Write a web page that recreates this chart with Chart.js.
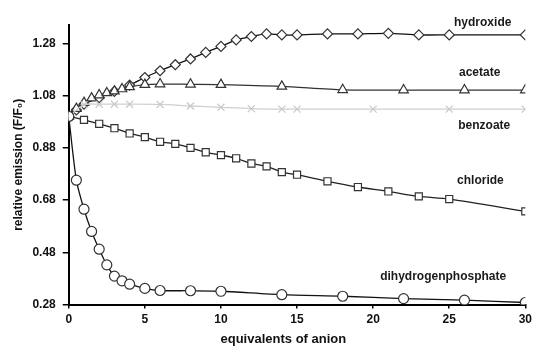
<!DOCTYPE html>
<html>
<head>
<meta charset="utf-8">
<script src="https://cdn.jsdelivr.net/npm/chart.js@4"></script>
<style>
  html, body { margin: 0; padding: 0; background: #fff; }
  #wrap { width: 536px; height: 348px; }
</style>
</head>
<body>
<div id="wrap"><canvas id="grafico"></canvas></div>
<script>
// ************************* DATOS *************************
const hydroxideX = [0, 0.5, 1, 2, 3, 4, 5, 6, 7, 8, 9, 10, 11, 12, 13, 14, 15, 17, 19, 21, 23, 25, 30];
const hydroxideY = [1.0, 1.025, 1.047, 1.072, 1.096, 1.12, 1.149, 1.175, 1.198, 1.22, 1.245, 1.268, 1.293, 1.306, 1.316, 1.312, 1.312, 1.316, 1.316, 1.318, 1.312, 1.312, 1.312];

const acetateX = [0, 0.5, 1, 1.5, 2, 2.5, 3, 3.5, 4, 5, 6, 8, 10, 14, 18, 22, 26, 30];
const acetateY = [1.0, 1.03, 1.053, 1.07, 1.082, 1.09, 1.097, 1.105, 1.113, 1.122, 1.124, 1.123, 1.122, 1.115, 1.102, 1.101, 1.101, 1.101];

const benzoateX = [0, 1, 2, 3, 4, 6, 8, 10, 12, 14, 15, 20, 25, 30];
const benzoateY = [1.0, 1.045, 1.047, 1.047, 1.047, 1.046, 1.04, 1.035, 1.03, 1.028, 1.028, 1.028, 1.028, 1.028];

const chlorideX = [0, 1, 2, 3, 4, 5, 6, 7, 8, 9, 10, 11, 12, 13, 14, 15, 17, 19, 21, 23, 25, 30];
const chlorideY = [1.0, 0.987, 0.972, 0.955, 0.935, 0.921, 0.903, 0.895, 0.88, 0.863, 0.852, 0.84, 0.82, 0.809, 0.787, 0.777, 0.752, 0.73, 0.713, 0.694, 0.684, 0.637];

const phosphateX = [0, 0.5, 1, 1.5, 2, 2.5, 3, 3.5, 4, 5, 6, 8, 10, 14, 18, 22, 26, 30];
const phosphateY = [1.0, 0.756, 0.645, 0.56, 0.492, 0.432, 0.389, 0.371, 0.358, 0.342, 0.334, 0.333, 0.331, 0.318, 0.312, 0.303, 0.297, 0.288];

const yTicks = [0.28, 0.48, 0.68, 0.88, 1.08, 1.28];
const xTicks = [0, 5, 10, 15, 20, 25, 30];

const seriesNames = ["hydroxide", "acetate", "benzoate", "chloride", "dihydrogenphosphate"];

// posición de las etiquetas (coordenadas de datos)
const etiquetas = [
  { texto: "hydroxide", x: 27.2, y: 1.36 },
  { texto: "acetate", x: 27.0, y: 1.168 },
  { texto: "benzoate", x: 27.3, y: 0.963 },
  { texto: "chloride", x: 27.05, y: 0.755 },
  { texto: "dihydrogenphosphate", x: 24.6, y: 0.385 }
];

/**
 * Une los arrays x/y en puntos para Chart.js
 */
function puntos(xs, ys) {
  return xs.map(function (x, i) {
    return { x: x, y: ys[i] };
  });
}

const FUENTE = "'Liberation Sans', Arial, sans-serif";

// ************************* PLUGIN ETIQUETAS *************************
const pluginEtiquetas = {
  id: "etiquetas",
  afterDraw: function (chart) {
    const ctx = chart.ctx;
    const sx = chart.scales.x;
    const sy = chart.scales.y;
    ctx.save();
    ctx.font = "bold 12px " + FUENTE;
    ctx.fillStyle = "#1a1a1a";
    ctx.textAlign = "center";
    ctx.textBaseline = "middle";
    etiquetas.forEach(function (e) {
      ctx.fillText(e.texto, sx.getPixelForValue(e.x), sy.getPixelForValue(e.y));
    });
    // título del eje x, algo a la izquierda del centro como en el original
    ctx.font = "bold 13px " + FUENTE;
    ctx.fillStyle = "#111";
    ctx.fillText("equivalents of anion", sx.getPixelForValue(14.1), 339);
    ctx.restore();
  }
};

function serie(nombre, xs, ys, estilo, color, lineColor, radio) {
  return {
    label: nombre,
    data: puntos(xs, ys),
    showLine: true,
    borderColor: lineColor,
    borderWidth: 1.3,
    pointStyle: estilo,
    pointRadius: radio,
    pointBorderColor: color,
    pointBackgroundColor: "#fff",
    pointBorderWidth: 1.2,
    tension: 0.25,
    fill: false
  };
}

const datasets = [
  serie(seriesNames[4], phosphateX, phosphateY, "circle", "#333", "#111", 5),
  serie(seriesNames[3], chlorideX, chlorideY, "rect", "#333", "#222", 5),
  serie(seriesNames[2], benzoateX, benzoateY, "crossRot", "#c8c8c8", "#d0d0d0", 5),
  serie(seriesNames[1], acetateX, acetateY, "triangle", "#333", "#333", 5.5),
  serie(seriesNames[0], hydroxideX, hydroxideY, "rectRot", "#333", "#111", 5)
];

new Chart(document.getElementById("grafico"), {
  type: "scatter",
  data: { datasets: datasets },
  options: {
    responsive: true,
    maintainAspectRatio: false,
    animation: false,
    layout: { padding: { left: 11, right: 2, top: 25, bottom: 17 } },
    plugins: {
      legend: { display: false },
      tooltip: { enabled: false }
    },
    scales: {
      x: {
        type: "linear",
        min: 0,
        max: 30,
        afterBuildTicks: function (scale) {
          scale.ticks = xTicks.map(function (v) { return { value: v }; });
        },
        border: { color: "#000", width: 2 },
        grid: { drawOnChartArea: false, drawTicks: true, tickLength: 4, color: "#000", lineWidth: 1.5 },
        ticks: { color: "#111", font: { family: FUENTE, size: 12, weight: "bold" }, padding: 4, maxRotation: 0 }
      },
      y: {
        type: "linear",
        min: 0.28,
        max: 1.35,
        afterBuildTicks: function (scale) {
          scale.ticks = yTicks.map(function (v) { return { value: v }; });
        },
        border: { color: "#000", width: 2 },
        grid: { drawOnChartArea: false, drawTicks: true, tickLength: 6, color: "#000", lineWidth: 1.5 },
        ticks: {
          color: "#111",
          font: { family: FUENTE, size: 12, weight: "bold" },
          padding: 7,
          callback: function (v) { return v.toFixed(2); }
        },
        title: {
          display: true,
          text: "relative emission (F/F₀)",
          color: "#111",
          font: { family: FUENTE, size: 12, weight: "bold" },
          padding: { top: 0, bottom: 0 }
        }
      }
    }
  },
  plugins: [pluginEtiquetas]
});
</script>
</body>
</html>
